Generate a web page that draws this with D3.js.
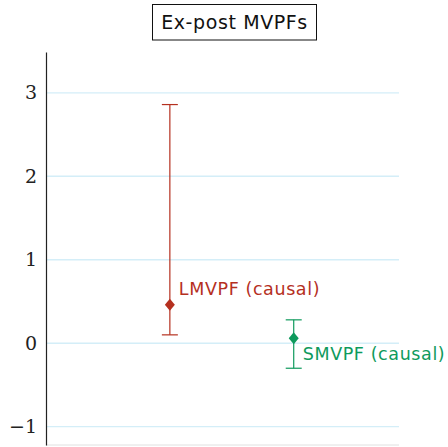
<!DOCTYPE html>
<html>
<head>
<meta charset="utf-8">
<script src="https://cdn.jsdelivr.net/npm/d3@7"></script>
<style>
body { margin: 0; background: #fff; }
</style>
</head>
<body>
<div id="chart"></div>
<script>
var W = 448, H = 447;

// data
var names = ["LMVPF (causal)", "SMVPF (causal)"];
var xpos = [1, 2];
var estimate = [0.46, 0.06];
var lower = [0.10, -0.30];
var upper = [2.86, 0.28];
var colors = ["#b5301f", "#0e9a5c"];
var yTicks = [-1, 0, 1, 2, 3];

var svg = d3.select("#chart").append("svg")
	.attr("width", W)
	.attr("height", H);

var x = d3.scaleLinear().domain([0, 2.85]).range([46, 399]);
var y = d3.scaleLinear().domain([-1.22, 3.49]).range([445, 52]);

// grid
svg.selectAll(".grid").data(yTicks).enter().append("line")
	.attr("x1", x(0)).attr("x2", x(2.85))
	.attr("y1", d => y(d)).attr("y2", d => y(d))
	.attr("stroke", "#d4eef8")
	.attr("stroke-width", 1.4);

// bottom line
svg.append("line")
	.attr("x1", x(0)).attr("x2", x(2.85))
	.attr("y1", y(-1.22)).attr("y2", y(-1.22))
	.attr("stroke", "#e0e0e0");

// y axis
var yAxis = d3.axisLeft(y).tickValues(yTicks).tickSize(0).tickPadding(9)
	.tickFormat(d => d < 0 ? "\u2212" + Math.abs(d) : d);
var ga = svg.append("g").attr("transform", "translate(" + x(0) + ",0)").call(yAxis);
ga.select(".domain").attr("stroke", "#222").attr("stroke-width", 1.2);
ga.selectAll("text")
	.attr("font-family", "'DejaVu Serif', 'Liberation Serif', serif")
	.attr("font-size", 19)
	.attr("fill", "#222");

// error bars
var g = svg.selectAll(".pt").data(names).enter().append("g");
g.append("line")
	.attr("x1", (d, i) => x(xpos[i])).attr("x2", (d, i) => x(xpos[i]))
	.attr("y1", (d, i) => y(lower[i])).attr("y2", (d, i) => y(upper[i]))
	.attr("stroke", (d, i) => colors[i]).attr("stroke-width", 1.2);
[lower, upper].forEach(function (arr) {
	g.append("line")
		.attr("x1", (d, i) => x(xpos[i]) - 8).attr("x2", (d, i) => x(xpos[i]) + 8)
		.attr("y1", (d, i) => y(arr[i])).attr("y2", (d, i) => y(arr[i]))
		.attr("stroke", (d, i) => colors[i]).attr("stroke-width", 1.2);
});
g.append("path")
	.attr("d", "M0,-6L5,0L0,6L-5,0Z")
	.attr("transform", (d, i) => "translate(" + x(xpos[i]) + "," + y(estimate[i]) + ")")
	.attr("fill", (d, i) => colors[i]);

// labels
g.append("text")
	.attr("x", (d, i) => x(xpos[i]) + 9)
	.attr("y", (d, i) => i == 0 ? y(estimate[i]) - 10 : y(estimate[i]) + 22)
	.attr("font-family", "'DejaVu Sans', sans-serif")
	.attr("font-size", 17.5)
	.attr("letter-spacing", 0.6)
	.attr("fill", (d, i) => colors[i])
	.text(d => d);

// title box
svg.append("text")
	.attr("x", 234.5).attr("y", 29)
	.attr("text-anchor", "middle")
	.attr("font-family", "'DejaVu Sans', sans-serif")
	.attr("font-size", 19)
	.attr("letter-spacing", 0.6)
	.attr("fill", "#111")
	.text("Ex-post MVPFs");
svg.append("rect")
	.attr("x", 152.5).attr("y", 4.5)
	.attr("width", 164).attr("height", 35.5)
	.attr("fill", "none").attr("stroke", "#111").attr("stroke-width", 1);
</script>
</body>
</html>
